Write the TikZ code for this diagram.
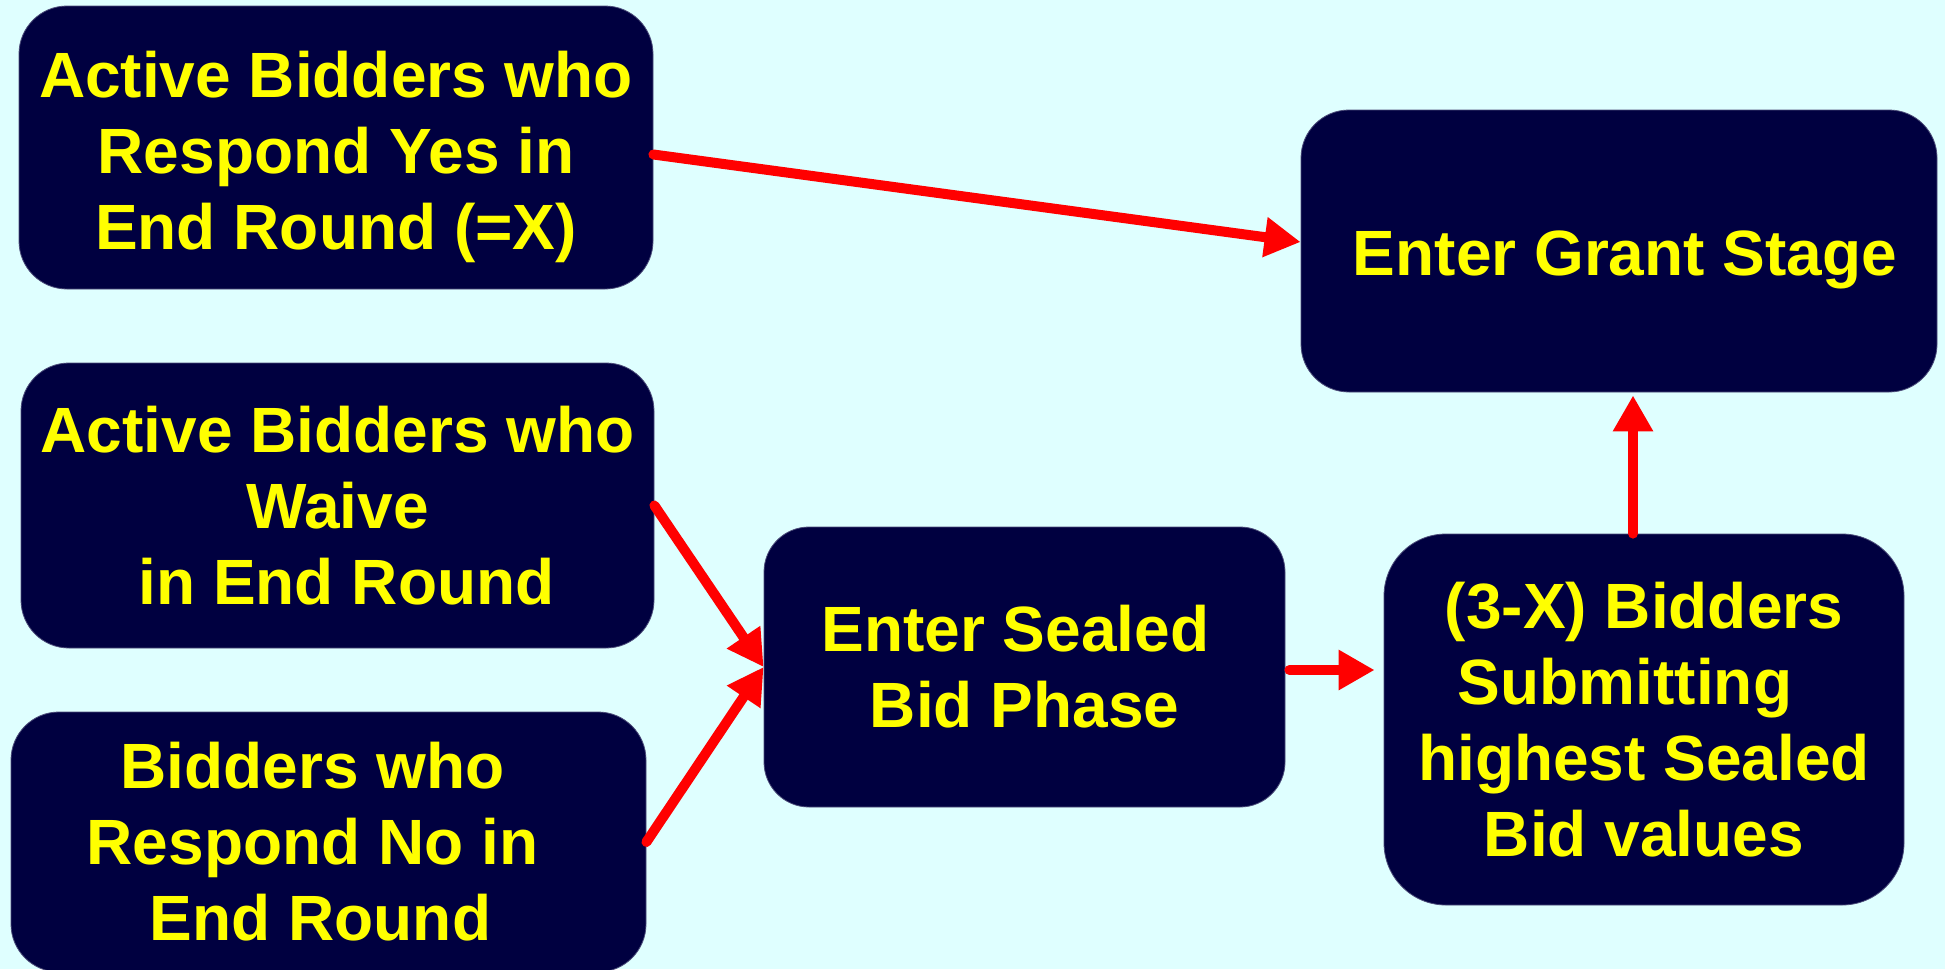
\documentclass[tikz,border=0pt]{standalone}
\usepackage{fontspec}
\setmainfont{Liberation Sans}
\usetikzlibrary{arrows.meta}
\definecolor{bgc}{HTML}{DFFFFF}
\definecolor{boxc}{HTML}{000040}
\definecolor{txtc}{HTML}{FFFF00}
\definecolor{arrc}{HTML}{FF0000}
\tikzset{
  box/.style={draw=boxc!70!white, line width=0.8pt, fill=boxc, rounded corners=#1, inner sep=0pt},
  box/.default=48pt,
  txt/.style={inner sep=0pt, text=txtc, align=center, font=\fontsize{64}{76}\selectfont\bfseries},
  arr/.style={draw=arrc, line width=10pt, line cap=round,
    -{Triangle[length=36pt,width=38pt]}}
}
\begin{document}
\begin{tikzpicture}[x=1pt,y=-1pt]
\fill[bgc] (0,0) rectangle (1945,969);
\useasboundingbox (0,0) rectangle (1945,969);
\node[box, minimum width=634pt, minimum height=283pt] (A) at (336,147.5) {};
\node[txt] (At) at ([yshift=-9pt]A.center) {Active Bidders who\\Respond Yes in\\End Round (=X)};
\node[box, minimum width=636pt, minimum height=282pt] (G) at (1619,251) {};
\node[txt] (Gt) at ([xshift=6pt,yshift=-9pt]G.center) {Enter Grant Stage};
\node[box, minimum width=633pt, minimum height=285pt] (B) at (337.5,505.5) {};
\node[txt] (Bt) at (B.center) {Active Bidders who\\Waive\\\rule{18pt}{0pt}in End Round};
\node[box, minimum width=635pt, minimum height=260pt] (C) at (328.5,842) {};
\node[txt] (Ct) at ([xshift=-16pt]C.center) {Bidders who\\Respond No in\\\rule{16pt}{0pt}End Round};
\node[box=45pt, minimum width=521pt, minimum height=280pt] (S) at (1024.5,667) {};
\node[txt] (St) at (S.center) {Enter Sealed\rule{18pt}{0pt}\\Bid Phase};
\node[box=62pt, minimum width=520pt, minimum height=371pt] (T) at (1644,719.5) {};
\node[txt] (Tt) at (T.center) {(3-X) Bidders\\Submitting\rule{38pt}{0pt}\\highest Sealed\\Bid values};
\coordinate (tg) at (1633,0);
\draw[arr] ([yshift=-7pt]A.east) -- ([yshift=9pt]G.west);
\draw[arr] (B.east) -- (S.west);
\draw[arr] (C.east) -- (S.west);
\draw[arr, shorten >=9pt] ([xshift=4pt,yshift=-3pt]S.east) -- ([yshift=-3pt]S.east -| T.west);
\draw[arr, shorten >=3pt] (tg |- T.north) -- (tg |- G.south);
\end{tikzpicture}
\end{document}
